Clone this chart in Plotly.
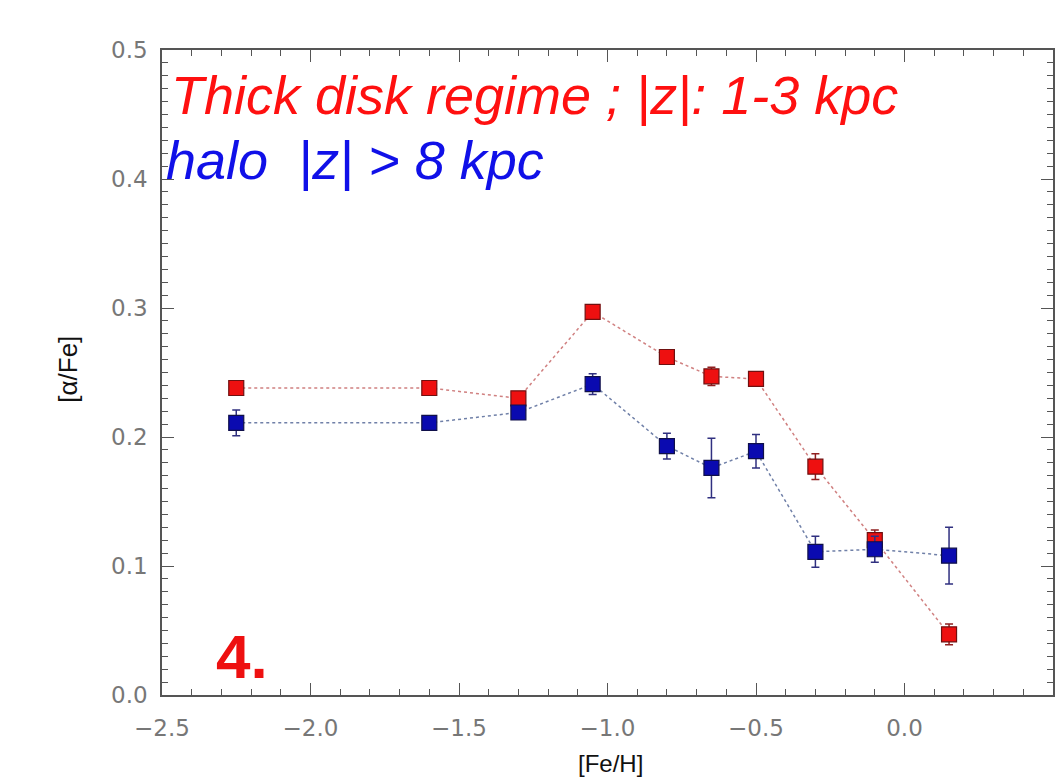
import plotly.graph_objects as go

feh = [-2.25, -1.6, -1.3, -1.05, -0.8, -0.65, -0.5, -0.3, -0.1, 0.15]
thick_alpha = [0.238, 0.238, 0.230, 0.297, 0.262, 0.247, 0.245, 0.177, 0.120, 0.047]
thick_err = [0.004, 0.004, 0.005, 0.004, 0.004, 0.007, 0.005, 0.010, 0.008, 0.008]
halo_alpha = [0.211, 0.211, 0.219, 0.241, 0.193, 0.176, 0.189, 0.111, 0.113, 0.108]
halo_err = [0.010, 0.004, 0.005, 0.008, 0.010, 0.023, 0.013, 0.012, 0.010, 0.022]

x_ticks = [-2.5, -2.0, -1.5, -1.0, -0.5, 0.0, 0.5]
y_ticks = [0.0, 0.1, 0.2, 0.3, 0.4, 0.5]

fig = go.Figure()

fig.add_trace(go.Scatter(
    x=feh, y=thick_alpha, mode="lines+markers",
    line=dict(color="#d08080", width=1.5, dash="dot"),
    marker=dict(symbol="square", size=15, color="#ee1010", line=dict(color="#701010", width=1.2)),
    error_y=dict(type="data", array=thick_err, color="#902020", thickness=1.5, width=4),
    showlegend=False,
))
fig.add_trace(go.Scatter(
    x=feh, y=halo_alpha, mode="lines+markers",
    line=dict(color="#7080a8", width=1.5, dash="dot"),
    marker=dict(symbol="square", size=15, color="#0a0ab0", line=dict(color="#10104a", width=1.2)),
    error_y=dict(type="data", array=halo_err, color="#303080", thickness=1.5, width=4),
    showlegend=False,
))

axis_common = dict(
    showline=True, linecolor="#555555", linewidth=1.5, mirror="ticks",
    ticks="inside", ticklen=12, tickwidth=1.2, tickcolor="#555555",
    showgrid=False, zeroline=False,
    tickfont=dict(family="DejaVu Sans, sans-serif", size=23, color="#777777"),
)

fig.update_xaxes(
    range=[-2.5, 0.5], tickvals=x_ticks,
    ticktext=[f"{v:.1f}".replace("-", "\u2212") for v in x_ticks],
    minor=dict(dtick=0.1, ticks="inside", ticklen=6, tickcolor="#555555"),
    ticklabelstandoff=12,
    **axis_common,
)
fig.update_yaxes(
    range=[0.0, 0.5], tickvals=y_ticks,
    ticktext=[f"{v:.1f}" for v in y_ticks],
    minor=dict(dtick=0.01, ticks="inside", ticklen=6, tickcolor="#555555"),
    ticklabelstandoff=8,
    **axis_common,
)

fig.add_annotation(
    text="<i>Thick disk regime ; |z|: 1-3 kpc</i>", xref="paper", yref="paper",
    x=0.008, y=0.93, xanchor="left", yanchor="middle", showarrow=False,
    font=dict(family="Liberation Sans, Arial, sans-serif", size=54, color="#ff1010"),
)
fig.add_annotation(
    text="<i>halo\u00a0\u00a0|z| > 8 kpc</i>", xref="paper", yref="paper",
    x=0.002, y=0.829, xanchor="left", yanchor="middle", showarrow=False,
    font=dict(family="Liberation Sans, Arial, sans-serif", size=54, color="#1010e8"),
)
fig.add_annotation(
    text="<b>4.</b>", xref="paper", yref="paper",
    x=0.058, y=0.06, xanchor="left", yanchor="middle", showarrow=False,
    font=dict(family="Liberation Sans, Arial, sans-serif", size=62, color="#ee1010"),
)
fig.add_annotation(
    text="[\u03b1/Fe]", xref="paper", yref="paper",
    x=-0.105, y=0.505, xanchor="center", yanchor="middle", showarrow=False,
    textangle=-90,
    font=dict(family="Liberation Sans, Arial, sans-serif", size=26, color="#111111"),
)
fig.add_annotation(
    text="[Fe/H]", xref="paper", yref="paper",
    x=0.503, y=-0.131, xanchor="center", yanchor="bottom", showarrow=False,
    font=dict(family="Liberation Sans, Arial, sans-serif", size=24, color="#111111"),
)

fig.update_layout(
    width=1056, height=781,
    margin=dict(l=162, r=1, t=50, b=86),
    plot_bgcolor="white", paper_bgcolor="white",
)

fig.write_html("out.html")
